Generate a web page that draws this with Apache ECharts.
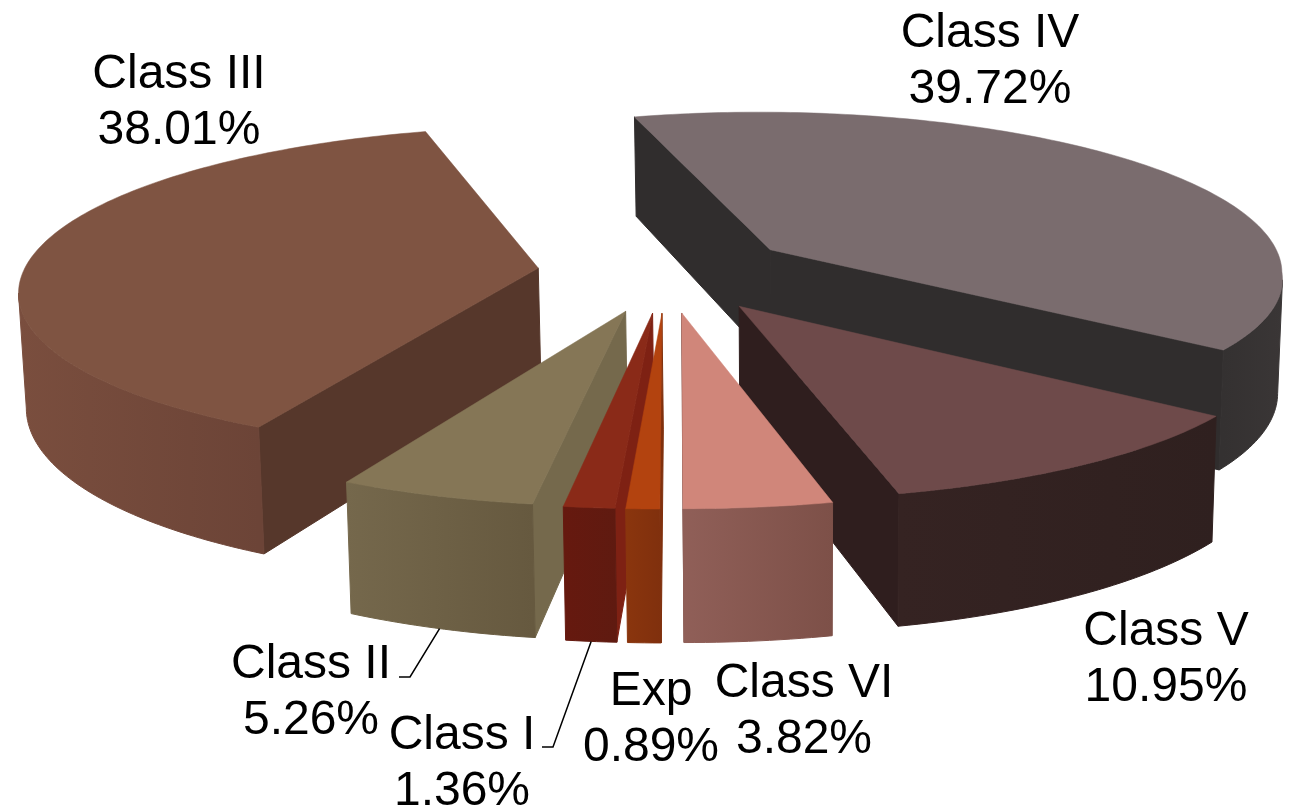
<!DOCTYPE html>
<html>
<head>
<meta charset="utf-8">
<style>html,body{margin:0;padding:0;background:#fff}#c{width:1291px;height:810px}</style>
<script src="https://cdn.jsdelivr.net/npm/echarts@6/dist/echarts.min.js"></script>
</head>
<body>
<div id="c"></div>
<script>
// Data, clockwise from the first slice
const classNames = ['Class IV', 'Class V', 'Class VI', 'Exp', 'Class I', 'Class II', 'Class III'];
const shares = [39.72, 10.95, 3.82, 0.89, 1.36, 5.26, 38.01];

// Styles
const topColors = ['#7a6c6e', '#6e4a4a', '#d0867a', '#b3430f', '#8a2a18', '#857656', '#7f5442'];
const radialColors = ['#302d2d', '#2f1e1e', '#7d5048', '#80300d', '#7e2113', '#75694c', '#56372b'];
const wallRight = ['#3a3636', '#2f201f', '#7d5048', '#80300d', '#5f1a10', '#66593f', '#6c4437'];
const wallLeft = ['#343131', '#352322', '#905f58', '#8a350d', '#66190f', '#75684c', '#7a4e3e'];
const paintOrder = [0, 2, 4, 6, 5, 3, 1];
const labelCenters = [[990, 62], [1166, 660], [804, 712], [651, 720], [462, 764], [311, 693], [179, 103]];
const leaderElbows = [null, null, null, null, [[542, 747], [553, 747]], [[399, 677], [410, 677]], null];

// Projection settings of the tilted pie
const view = { cx: 666, cy: 272, rx: 515, ry: 160, k: 0.125, height: 113, explode: 0.25, startDeg: -16, convergeX: 800, converge: 0.01, nearRightBulge: 18 };
const total = shares.reduce((a, b) => a + b, 0);

function project(X, Y, drop) {
  const s = 1 / (1 - view.k * Y);
  let x = view.cx + view.rx * X * s;
  if (X > 0 && Y > 0) x += view.nearRightBulge * X * Y;
  if (drop) x += (view.convergeX - x) * view.converge;
  return [x, view.cy + view.ry * Y * s + (drop || 0) * s];
}

function renderItem(params, api) {
  const i = params.dataIndex;
  const value = api.value(0);
  let before = 0;
  for (let j = 0; j < i; j++) before += shares[j];
  const rad = d => d * Math.PI / 180;
  const a0 = view.startDeg + before / total * 360;
  const a1 = a0 + value / total * 360;
  const mid = (a0 + a1) / 2;
  const ox = view.explode * Math.sin(rad(mid));
  const oy = -view.explode * Math.cos(rad(mid));
  const world = d => [ox + Math.sin(rad(d)), oy - Math.cos(rad(d))];
  const steps = Math.max(4, Math.ceil(a1 - a0));
  const rim = [];
  for (let n = 0; n <= steps; n++) rim.push(a0 + (a1 - a0) * n / steps);
  const apexW = [ox, oy];
  const h = view.height;
  const children = [];
  const base = paintOrder[i] * 2000;
  const radial = (wa, wb) => {
    const A = project(wa[0], wa[1]), B = project(wb[0], wb[1]);
    if (B[0] >= A[0]) return; // faces away from the viewer
    children.push({
      type: 'polygon', z2: base + 1,
      shape: { points: [A, B, project(wb[0], wb[1], h), project(wa[0], wa[1], h)] },
      style: { fill: radialColors[i], stroke: radialColors[i], lineWidth: 1, lineJoin: 'round' }
    });
  };
  radial(apexW, world(a0));
  radial(world(a1), apexW);
  // Rim wall: the stretch of the arc that faces the viewer
  const upper = [], lower = [];
  for (let n = 0; n < steps; n++) {
    const wa = world(rim[n]), wb = world(rim[n + 1]);
    const A = project(wa[0], wa[1]), B = project(wb[0], wb[1]);
    if (B[0] >= A[0]) continue;
    if (!upper.length) { upper.push(A); lower.push(project(wa[0], wa[1], h)); }
    upper.push(B); lower.push(project(wb[0], wb[1], h));
  }
  if (upper.length) {
    const xs = upper.map(p => p[0]);
    const grad = {
      type: 'linear', global: true,
      x: Math.min.apply(null, xs), y: 0, x2: Math.max.apply(null, xs) + 1, y2: 0,
      colorStops: [{ offset: 0, color: wallLeft[i] }, { offset: 1, color: wallRight[i] }]
    };
    children.push({
      type: 'polygon', z2: base + 2,
      shape: { points: upper.concat(lower.reverse()) },
      style: { fill: grad, stroke: grad, lineWidth: 1, lineJoin: 'round' }
    });
  }
  // Top face
  const top = [project(apexW[0], apexW[1])].concat(rim.map(d => { const w = world(d); return project(w[0], w[1]); }));
  children.push({ type: 'polygon', z2: base + 3, shape: { points: top }, style: { fill: topColors[i], stroke: topColors[i], lineWidth: 0.5, lineJoin: 'round' } });
  // Leader line ends on the bottom of the rim at the slice's middle angle
  if (leaderElbows[i]) {
    const w = world(mid);
    children.push({
      type: 'polyline', z2: 19000,
      shape: { points: leaderElbows[i].concat([project(w[0], w[1], h)]) },
      style: { fill: null, stroke: '#000', lineWidth: 1.5 }
    });
  }
  // Label
  children.push({
    type: 'text', z2: 20000,
    style: {
      x: labelCenters[i][0], y: labelCenters[i][1],
      text: api.value(1) + '\n' + value.toFixed(2) + '%',
      fill: '#000', font: '48px "Liberation Sans", Arial, sans-serif',
      lineHeight: 56, align: 'center', verticalAlign: 'middle'
    }
  });
  return { type: 'group', children: children };
}

const chart = echarts.init(document.getElementById('c'), null, { renderer: 'canvas', width: 1291, height: 810 });
chart.setOption({
  animation: false,
  backgroundColor: '#ffffff',
  series: [{
    type: 'custom',
    coordinateSystem: 'none',
    renderItem: renderItem,
    silent: true,
    encode: { value: 0 },
    data: shares.map((v, i) => [v, classNames[i]]),
    dimensions: [{ name: 'share', type: 'number' }, { name: 'name', type: 'ordinal' }]
  }]
});
</script>
</body>
</html>
